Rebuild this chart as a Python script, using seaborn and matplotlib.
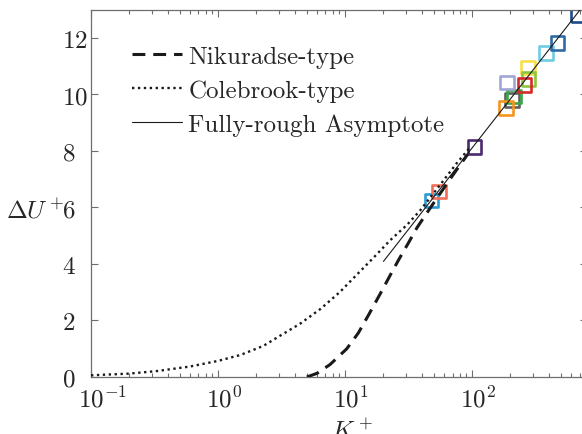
import numpy as np
import pandas as pd
import matplotlib
matplotlib.use("Agg")
import matplotlib.pyplot as plt
import matplotlib.transforms as mtransforms
import seaborn as sns

# Nikuradse-type roughness function
ks_nikuradse = [5.0, 6.0, 7.6, 10.3, 12.7, 15.3, 18.9, 22.6, 26.3, 31.5, 36.7, 44.0, 55.0, 70.0, 92.0]
du_nikuradse = [0.0, 0.13, 0.44, 1.0, 1.56, 2.2, 2.95, 3.6, 4.14, 4.75, 5.28, 5.81, 6.45, 7.13, 7.88]

# Colebrook-type roughness function
ks_colebrook = [0.1, 0.2, 0.33, 0.6, 1.0, 1.5, 2.27, 3.1, 4.4, 6.4, 9.1, 12.4, 16.7, 22.6, 30.6, 39.0, 55.0, 75.0, 95.0]
du_colebrook = [0.06, 0.12, 0.21, 0.37, 0.57, 0.78, 1.1, 1.47, 1.88, 2.41, 3.01, 3.63, 4.22, 4.84, 5.38, 5.9, 6.76, 7.55, 8.1]

# Fully-rough asymptote (straight line on a log axis)
ks_rough = [20.0, 800.0]
du_rough = [4.09, 13.31]

# Measured cases
ks_cases = [48, 55, 104, 205, 214, 185, 188, 276, 277, 257, 380, 467, 680]
du_cases = [6.24, 6.57, 8.14, 9.81, 9.92, 9.53, 10.42, 10.95, 10.55, 10.34, 11.47, 11.82, 12.80]
case_colors = ["#2b9ad8", "#f26e5b", "#4b2a6e", "#606060", "#3aa845", "#f7941d",
               "#a0a6d6", "#f5e04a", "#8cc63f", "#d62a2a", "#6dcde2", "#2f6aa6", "#1f4a8a"]

x_tick_values = [0.1, 1, 10, 100]
x_tick_labels = [r"$10^{-1}$", r"$10^{0}$", r"$10^{1}$", r"$10^{2}$"]
y_tick_values = [0, 2, 4, 6, 8, 10, 12]

sns.set_theme(style="ticks")
plt.rcParams["font.family"] = ["cmr10", "DejaVu Serif"]
plt.rcParams["mathtext.fontset"] = "cm"
plt.rcParams["axes.unicode_minus"] = False
plt.rcParams["axes.formatter.use_mathtext"] = True

fig = plt.figure(figsize=(5.82, 4.35), dpi=100)
ax = fig.add_axes([91 / 582, (435 - 378) / 435, (587 - 91) / 582, (378 - 10.7) / 435])

df_cases = pd.DataFrame({"ks": ks_cases, "du": du_cases, "case": [f"c{i}" for i in range(len(ks_cases))]})
sns.scatterplot(data=df_cases, x="ks", y="du", hue="case", palette=case_colors,
                marker="s", s=95, linewidth=1.9, legend=False, ax=ax, zorder=2)
coll = ax.collections[-1]
coll.set_edgecolors(coll.get_facecolors())
coll.set_facecolors("none")

df_nk = pd.DataFrame({"ks": ks_nikuradse, "du": du_nikuradse})
df_cb = pd.DataFrame({"ks": ks_colebrook, "du": du_colebrook})
df_fr = pd.DataFrame({"ks": ks_rough, "du": du_rough})

sns.lineplot(data=df_nk, x="ks", y="du", color="#1a1a1a", lw=2.2,
             ax=ax, label="Nikuradse-type", zorder=3).lines[-1].set_dashes((4.2, 2.6))
sns.lineplot(data=df_cb, x="ks", y="du", color="#1a1a1a", lw=1.7, ax=ax,
             label="Colebrook-type", zorder=3).lines[-1].set_dashes((1, 1.5))
sns.lineplot(data=df_fr, x="ks", y="du", color="#1a1a1a", lw=0.8, ax=ax,
             label="Fully-rough Asymptote", zorder=3)

ax.set_xscale("log")
ax.set_xlim(0.1, 800)
ax.set_ylim(0, 13)

ax.set_xticks(x_tick_values)
ax.set_xticklabels(x_tick_labels)
ax.set_yticks(y_tick_values)
ax.set_yticklabels([f"${v}$" for v in y_tick_values])
ax.xaxis.set_minor_locator(matplotlib.ticker.LogLocator(base=10, subs=np.arange(2, 10)))
ax.xaxis.set_minor_formatter(matplotlib.ticker.NullFormatter())

for side in ["top", "right", "bottom", "left"]:
    ax.spines[side].set_visible(True)
    ax.spines[side].set_color("#6e6e6e")
    ax.spines[side].set_linewidth(0.9)
ax.tick_params(which="both", direction="in", top=True, right=True, color="#6e6e6e",
               labelsize=18, width=0.8)
ax.tick_params(axis="x", pad=6)
ax.tick_params(axis="y", pad=21)
ax.tick_params(which="major", length=5)
ax.tick_params(which="minor", length=3)

# y tick labels share a common left edge
for lab in ax.get_yticklabels():
    lab.set_horizontalalignment("left")

# x tick labels: the "10" base sits centred on the tick
shift = mtransforms.ScaledTranslation(-12.5 / 100, 0, fig.dpi_scale_trans)
for lab in ax.get_xticklabels():
    lab.set_horizontalalignment("left")
    lab.set_transform(lab.get_transform() + shift)

ax.set_xlabel(r"$K_s^+$", fontsize=18)
ax.xaxis.set_label_coords(0.526, -0.105)
ax.set_ylabel(r"$\Delta U^+$", fontsize=18, rotation=0, ha="center", va="center")
ax.yaxis.set_label_coords(-0.112, 0.455)

leg = ax.legend(loc="upper left", bbox_to_anchor=((132 - 91) / 496, 0.902), frameon=False,
                fontsize=18, handlelength=2.0, handletextpad=0.25, labelspacing=0.45,
                borderpad=0, borderaxespad=0)

fig.savefig("out.png", dpi=100)
